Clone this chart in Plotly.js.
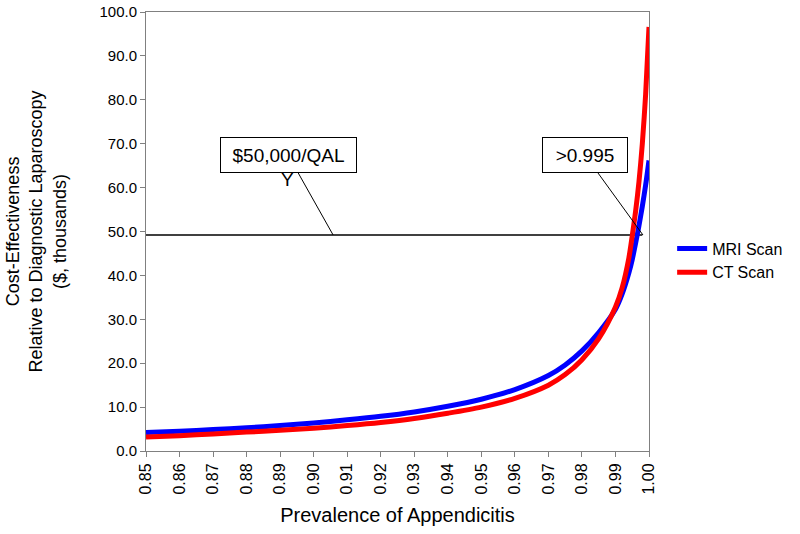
<!DOCTYPE html>
<html>
<head>
<meta charset="utf-8">
<script src="https://cdn.plot.ly/plotly-3.0.1.min.js"></script>
<style>
  html, body { margin: 0; padding: 0; background: #ffffff; }
  #chart { width: 800px; height: 534px; }
</style>
</head>
<body>
<div id="chart"></div>
<script>
// Prevalence of appendicitis (x)
const prevalence = [0.85, 0.86, 0.87, 0.88, 0.89, 0.90, 0.91, 0.92, 0.93, 0.94, 0.95, 0.96, 0.97, 0.975, 0.98, 0.985, 0.99, 0.992, 0.994, 0.995, 0.996, 0.997, 0.998, 0.999, 1.00];
// Cost-effectiveness ($, thousands)
const mriScan = [4.2, 4.5, 4.9, 5.3, 5.8, 6.4, 7.1, 7.9, 8.9, 10.2, 11.8, 14.0, 17.2, 19.6, 22.8, 27.0, 32.3, 35.8, 40.6, 43.6, 47.3, 51.3, 55.7, 60.6, 66.2];
const ctScan  = [3.2, 3.5, 3.9, 4.3, 4.7, 5.2, 5.8, 6.5, 7.4, 8.6, 10.0, 12.0, 15.0, 17.4, 20.8, 25.6, 32.8, 37.2, 44.0, 49.0, 54.6, 61.3, 69.9, 81.3, 96.6];
// Threshold line ($50,000/QALY drawn level)
const thresholdX = [0.85, 0.998];
const thresholdY = [49.2, 49.2];
// Axis ticks
const xTickVals = [0.85, 0.86, 0.87, 0.88, 0.89, 0.90, 0.91, 0.92, 0.93, 0.94, 0.95, 0.96, 0.97, 0.98, 0.99, 1.00];
const xTickText = ["0.85", "0.86", "0.87", "0.88", "0.89", "0.90", "0.91", "0.92", "0.93", "0.94", "0.95", "0.96", "0.97", "0.98", "0.99", "1.00"];
const yTickVals = [0, 10, 20, 30, 40, 50, 60, 70, 80, 90, 100];
const yTickText = ["0.0", "10.0", "20.0", "30.0", "40.0", "50.0", "60.0", "70.0", "80.0", "90.0", "100.0"];
// Callout labels
const labelWtp = "$50,000/QAL";
const labelWtpTail = "Y";
const labelCut = ">0.995";
const calloutX = [0.9058, 0.9982];

const FONT = "Liberation Sans, Arial, sans-serif";

const traces = [
  {
    x: thresholdX, y: thresholdY, mode: "lines", showlegend: false, hoverinfo: "skip",
    line: { color: "#000000", width: 1.5 }
  },
  {
    x: prevalence, y: mriScan, mode: "lines", name: "MRI Scan",
    line: { color: "#0000ff", width: 5, shape: "spline", smoothing: 0.8 }
  },
  {
    x: prevalence, y: ctScan, mode: "lines", name: "CT Scan",
    line: { color: "#ff0000", width: 5, shape: "spline", smoothing: 0.8 }
  }
];

const layout = {
  width: 800, height: 534,
  margin: { l: 146, r: 149, t: 12, b: 83 },
  paper_bgcolor: "#ffffff", plot_bgcolor: "#ffffff",
  font: { family: FONT, color: "#000000", size: 16 },
  showlegend: true,
  legend: {
    x: 1.046, y: 0.5, xanchor: "left", yanchor: "top",
    font: { family: FONT, size: 16, color: "#000000" },
    bgcolor: "rgba(0,0,0,0)", itemwidth: 30, tracegroupgap: 0
  },
  xaxis: {
    range: [0.85, 1.0],
    tickvals: xTickVals, ticktext: xTickText,
    tickangle: -90,
    ticks: "outside", ticklen: 5, tickcolor: "#808080",
    showline: true, linecolor: "#808080", linewidth: 1, mirror: true,
    showgrid: false, zeroline: false,
    tickfont: { family: FONT, size: 16, color: "#000000" },
    title: { text: "Prevalence of Appendicitis", font: { family: FONT, size: 20, color: "#000000" }, standoff: 14 }
  },
  yaxis: {
    range: [0, 100],
    tickvals: yTickVals, ticktext: yTickText,
    ticks: "outside", ticklen: 5, tickcolor: "#808080",
    showline: true, linecolor: "#808080", linewidth: 1, mirror: true,
    showgrid: false, zeroline: false,
    tickfont: { family: FONT, size: 15, color: "#000000" },
    title: {
      text: "Cost-Effectiveness<br>Relative to Diagnostic Laparoscopy<br>($, thousands)",
      font: { family: FONT, size: 18, color: "#000000" }, standoff: 28
    }
  },
  annotations: [
    {
      x: calloutX[0], y: thresholdY[0], xref: "x", yref: "y",
      text: labelWtp, showarrow: true, arrowhead: 0, arrowwidth: 1, arrowcolor: "#000000",
      ax: -45, ay: -80, axref: "pixel", ayref: "pixel",
      font: { family: FONT, size: 19, color: "#000000" },
      bgcolor: "#ffffff", bordercolor: "#000000", borderwidth: 1, borderpad: 3,
      width: 129, height: 28
    },
    {
      x: calloutX[0], y: thresholdY[0], xref: "x", yref: "y",
      text: labelWtpTail, showarrow: false,
      xshift: -46, yshift: 56,
      font: { family: FONT, size: 19, color: "#000000" }
    },
    {
      x: calloutX[1], y: thresholdY[0], xref: "x", yref: "y",
      text: labelCut, showarrow: true, arrowhead: 0, arrowwidth: 1, arrowcolor: "#000000",
      ax: -58, ay: -80, axref: "pixel", ayref: "pixel",
      font: { family: FONT, size: 19, color: "#000000" },
      bgcolor: "#ffffff", bordercolor: "#000000", borderwidth: 1, borderpad: 3,
      width: 78, height: 28
    }
  ]
};

Plotly.newPlot("chart", traces, layout, { displayModeBar: false, staticPlot: true });
</script>
</body>
</html>
